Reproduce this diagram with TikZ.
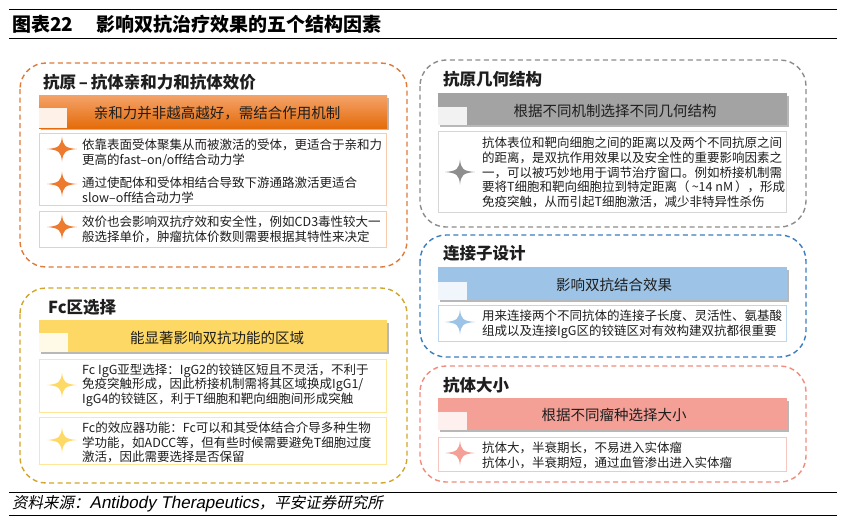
\documentclass[tikz,border=0pt]{standalone}
\usepackage{fontspec}
\setmainfont{Noto Sans CJK SC}
\newfontfamily\srcfont[FakeSlant=0.2]{Noto Sans CJK SC}
\newfontfamily\srclat[FakeSlant=0.2]{Liberation Sans}
\usetikzlibrary{shadings}
\definecolor{txt}{HTML}{1E1E1E}
\definecolor{orBorder}{HTML}{E07A3A}
\definecolor{orTop}{HTML}{F4A36A}
\definecolor{orBot}{HTML}{E46C0A}
\definecolor{orBox}{HTML}{F8CBAD}
\definecolor{orStar}{HTML}{EE7A2E}
\definecolor{orSq}{HTML}{FDF1E8}
\definecolor{grBorder}{HTML}{8C8C8C}
\definecolor{grBar}{HTML}{A3A3A3}
\definecolor{grBox}{HTML}{D6D6D6}
\definecolor{grStar}{HTML}{8E8E8E}
\definecolor{grSq}{HTML}{F2F2F2}
\definecolor{blBorder}{HTML}{3A7DC0}
\definecolor{blBar}{HTML}{9DC3E6}
\definecolor{blBox}{HTML}{BDD7EE}
\definecolor{blStar}{HTML}{9DC3E6}
\definecolor{blSq}{HTML}{F0F6FC}
\definecolor{rdBorder}{HTML}{F28B7D}
\definecolor{rdBar}{HTML}{F4A097}
\definecolor{rdBox}{HTML}{F6C6C0}
\definecolor{rdStar}{HTML}{F4A097}
\definecolor{rdSq}{HTML}{FDF0EE}
\definecolor{ylBorder}{HTML}{D1A52B}
\definecolor{ylBar}{HTML}{FDD865}
\definecolor{ylBox}{HTML}{FFE699}
\definecolor{ylStar}{HTML}{FFD966}
\definecolor{ylSq}{HTML}{FFF9E8}
\tikzset{
  panelborder/.style={dash pattern=on 5pt off 3.5pt, line width=1.4pt, rounded corners=26pt},
  paneltitle/.style={anchor=west, inner sep=0pt, text=txt, font=\fontsize{16.5}{16.5}\selectfont\bfseries},
  bartext/.style={inner sep=0pt, text=txt, font=\fontsize{14.5}{14.5}\selectfont},
  bodytext/.style={anchor=west, inner sep=0pt, align=left, text=txt, font=\fontsize{12.5}{14.7}\selectfont},
  itembox/.style={line width=0.9pt, fill=white},
  barshadow/.style={fill=black!28},
  pics/spark/.style={code={
    \fill[#1] (-15,0) .. controls (-3,-1) and (-1,-3) .. (0,-12.5)
      .. controls (1,-3) and (3,-1) .. (15,0)
      .. controls (3,1) and (1,3) .. (0,12.5)
      .. controls (-1,3) and (-3,1) .. (-15,0) -- cycle;}}
}
\begin{document}
\begin{tikzpicture}[x=1pt,y=-1pt]
\useasboundingbox (0,0) rectangle (849,523);
\fill[white] (0,0) rectangle (849,523);
% header
\draw[line width=1pt] (9,9.5) -- (837,9.5);
\draw[line width=1pt] (9,38) -- (837,38);
\node[anchor=west, inner sep=0pt, font=\fontsize{19}{19}\selectfont\bfseries] (fig) at (12,24) {图表22};
\node[anchor=west, inner sep=0pt, font=\fontsize{19}{19}\selectfont\bfseries] (ttl) at (96,24) {影响双抗治疗效果的五个结构因素};

% ---------- panel 1 (orange)
\draw[panelborder, draw=orBorder] (20,63) rectangle (407,267);
\node[paneltitle] (t1) at (43,82) {抗原\,–\,抗体亲和力和抗体效价};
\fill[barshadow] (41,97.5) rectangle (389,130);
\shade[top color=orTop, bottom color=orBot] (39,95) rectangle (387,128);
\fill[orSq] (39,108) rectangle (67,128);
\node[bartext] (b1) at (217,113) {亲和力并非越高越好，需结合作用机制};
\draw[itembox, draw=orBox] (39,133) rectangle (386,205);
\draw[itembox, draw=orBox] (39,211) rectangle (386,247);
\pic at (62,149) {spark=orStar};
\pic at (62,184) {spark=orStar};
\pic at (62,227) {spark=orStar};
\node[bodytext] (p1a) at (82,153) {依靠表面受体聚集从而被激活的受体，更适合于亲和力\\更高的fast–on/off结合动力学};
\node[bodytext] (p1b) at (82,190.5) {通过使配体和受体相结合导致下游通路激活更适合\\slow–off结合动力学};
\node[bodytext] (p1c) at (82,229) {效价也会影响双抗疗效和安全性，例如CD3毒性较大一\\般选择单价，肿瘤抗体价数则需要根据其特性来决定};

% ---------- panel 2 (gray)
\draw[panelborder, draw=grBorder] (420,60) rectangle (806,227);
\node[paneltitle] (t2) at (443,79) {抗原几何结构};
\fill[barshadow] (440,95.5) rectangle (789,127);
\fill[grBar] (438,93) rectangle (787,125);
\fill[grSq] (438,107) rectangle (467,125);
\node[bartext] (b2) at (615,111) {根据不同机制选择不同几何结构};
\draw[itembox, draw=grBox] (438,131) rectangle (786,212);
\pic at (460,172) {spark=grStar};
\node[bodytext] (p2) at (482,172.5) {抗体表位和靶向细胞之间的距离以及两个不同抗原之间\\的距离，是双抗作用效果以及安全性的重要影响因素之\\一，可以被巧妙地用于调节治疗窗口。例如桥接机制需\\要将T细胞和靶向细胞拉到特定距离（\,\textasciitilde14 nM\,），形成\\免疫突触，从而引起T细胞激活，减少非特异性杀伤};

% ---------- panel 3 (blue)
\draw[panelborder, draw=blBorder] (420,235) rectangle (806,357);
\node[paneltitle] (t3) at (443,253) {连接子设计};
\fill[barshadow] (440,269.5) rectangle (789,302);
\fill[blBar] (438,267) rectangle (787,300);
\fill[blSq] (438,282) rectangle (467,300);
\node[bartext] (b3) at (614,285) {影响双抗结合效果};
\draw[itembox, draw=blBox] (438,305) rectangle (786,341);
\pic at (460,322) {spark=blStar};
\node[bodytext] (p3) at (482,324.5) {用来连接两个不同抗体的连接子长度、灵活性、氨基酸\\组成以及连接IgG区的铰链区对有效构建双抗都很重要};

% ---------- panel 4 (red)
\draw[panelborder, draw=rdBorder] (420,366) rectangle (806,482);
\node[paneltitle] (t4) at (443,385) {抗体大小};
\fill[barshadow] (440,400.5) rectangle (789,432);
\fill[rdBar] (438,398) rectangle (787,430);
\fill[rdSq] (438,412) rectangle (467,430);
\node[bartext] (b4) at (614,415) {根据不同瘤种选择大小};
\draw[itembox, draw=rdBox] (438,437) rectangle (786,471);
\pic at (460,453) {spark=rdStar};
\node[bodytext] (p4) at (482,455.5) {抗体大，半衰期长，不易进入实体瘤\\抗体小，半衰期短，通过血管渗出进入实体瘤};

% ---------- panel 5 (yellow)
\draw[panelborder, draw=ylBorder] (20,288) rectangle (407,483);
\node[paneltitle] (t5) at (48,307) {Fc区选择};
\fill[barshadow] (41,322.5) rectangle (389,354);
\fill[ylBar] (39,320) rectangle (387,352);
\fill[ylSq] (39,333) rectangle (68,352);
\node[bartext] (b5) at (217,338) {能显著影响双抗功能的区域};
\draw[itembox, draw=ylBox] (39,359) rectangle (386,412);
\draw[itembox, draw=ylBox] (39,417) rectangle (386,464);
\pic at (62,385) {spark=ylStar};
\pic at (62,440) {spark=ylStar};
\node[bodytext] (p5a) at (82,385) {Fc IgG亚型选择：IgG2的铰链区短且不灵活，不利于\\免疫突触形成，因此桥接机制需将其区域换成IgG1/\\IgG4的铰链区，利于T细胞和靶向细胞间形成突触};
\node[bodytext] (p5b) at (82,442.5) {Fc的效应器功能：Fc可以和其受体结合介导多种生物\\学功能，如ADCC等，但有些时候需要避免T细胞过度\\激活，因此需要选择是否保留};

% ---------- source
\draw[line width=0.9pt] (9,492) -- (837,492);
\draw[line width=0.9pt] (9,515) -- (837,515);
\node[anchor=west, inner sep=0pt, font=\srcfont\fontsize{15.5}{15.5}\selectfont] (src) at (12,503.5) {资料来源：{\srclat\fontsize{17}{17}\selectfont Antibody Therapeutics}，平安证券研究所};
\end{tikzpicture}
\end{document}
